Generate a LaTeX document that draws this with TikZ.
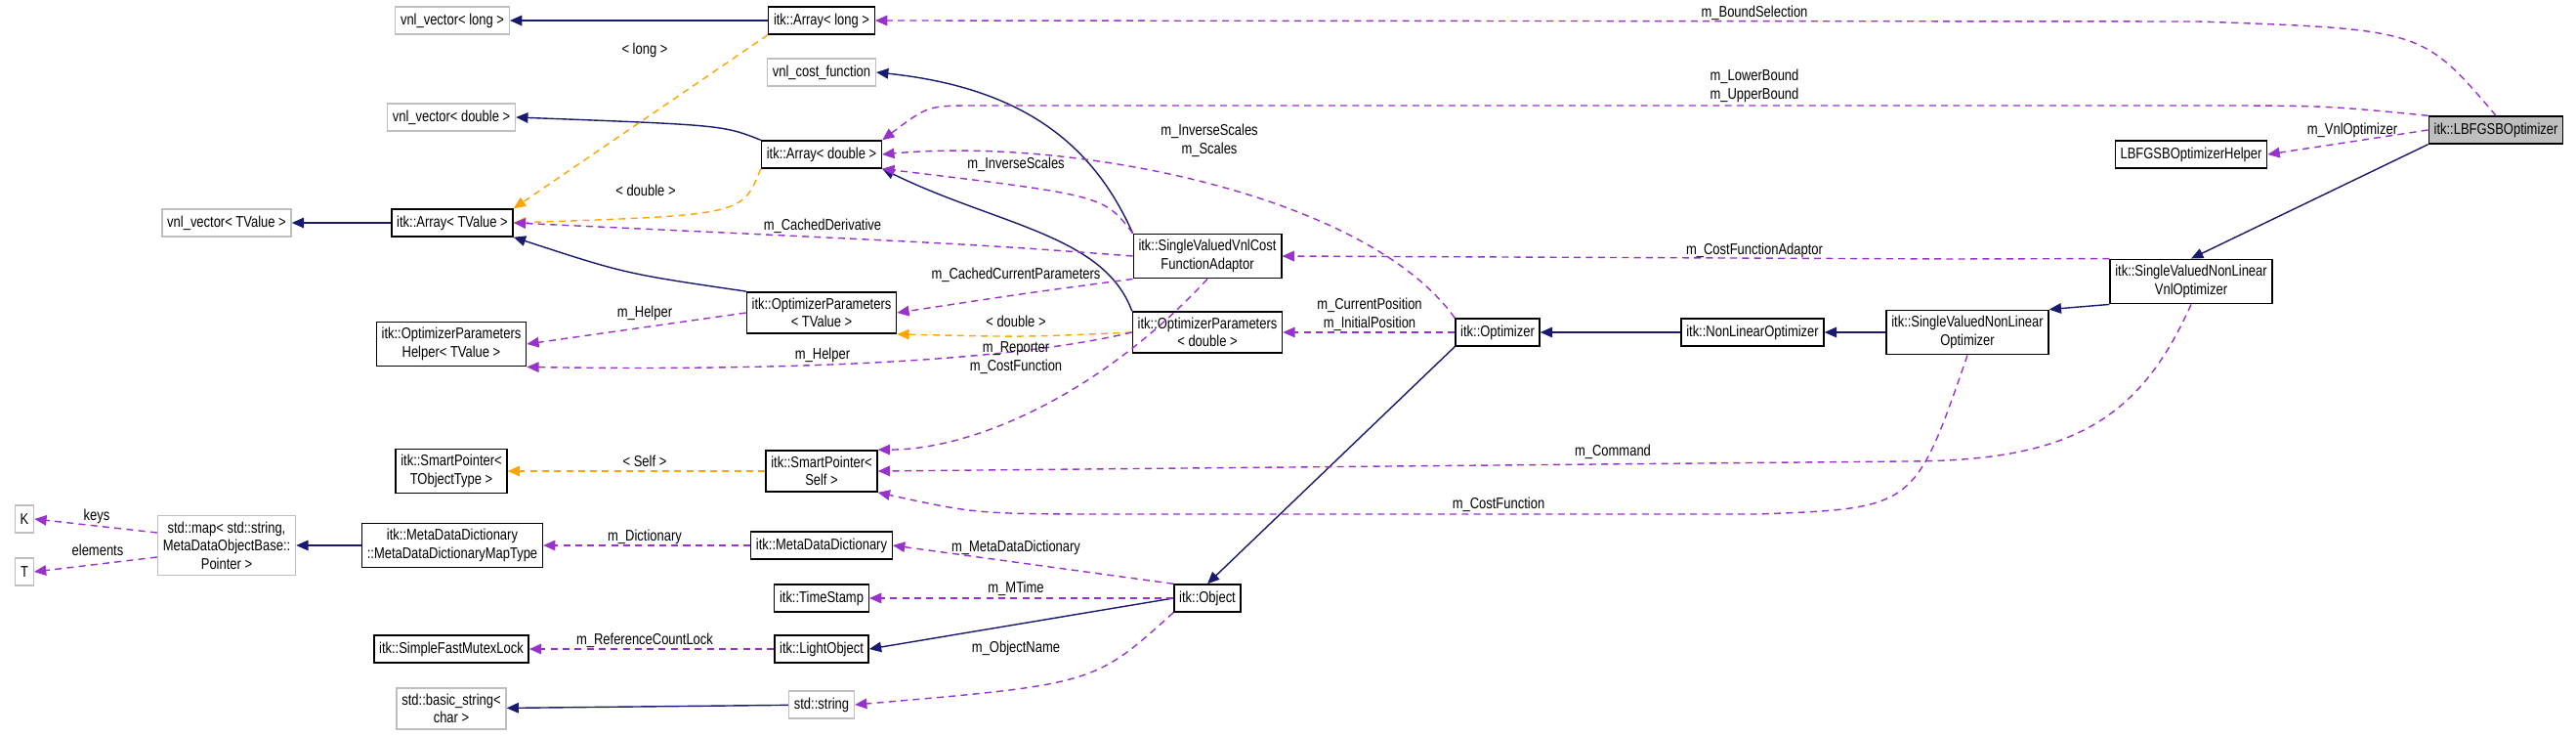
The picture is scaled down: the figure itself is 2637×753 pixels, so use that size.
\documentclass[tikz,border=0pt]{standalone}
\usepackage{fontspec}
\setmainfont{Liberation Sans}[FakeStretch=0.82]
\usetikzlibrary{arrows.meta}

\definecolor{inhblue}{RGB}{25,25,112}
\definecolor{usepurple}{RGB}{153,50,204}
\definecolor{tmplorange}{RGB}{255,165,0}

\tikzset{
    box/.style={draw, fill=white, align=center, font=\fontsize{9}{10.5}\selectfont,
        inner xsep=3pt, inner ysep=3.5pt, minimum height=0.56cm},
    cls/.style={box, draw=black, line width=0.8pt},
    ext/.style={box, draw=black!25, line width=0.8pt},
    cur/.style={box, draw=black, fill=black!25, line width=0.8pt},
    lbl/.style={font=\fontsize{9}{10.5}\selectfont, align=center, inner sep=1pt},
    inh/.style={draw=inhblue, line width=0.8pt, -{Triangle[length=7pt,width=6pt]}},
    use/.style={draw=usepurple, line width=0.8pt, dash pattern=on 4pt off 3pt,
        -{Triangle[length=7pt,width=6pt]}},
    tmpl/.style={draw=tmplorange, line width=0.8pt, dash pattern=on 4pt off 3pt,
        -{Triangle[length=7pt,width=6pt]}},
}

\begin{document}
\begin{tikzpicture}[x=0.02cm, y=-0.02cm]
    \useasboundingbox (0, 0) rectangle (2637, 753);

    % classes
    \node [ext] (vnlLong) at (463, 21) {vnl\_vector< long >};
    \node [cls] (arrLong) at (841, 21) {itk::Array< long >};
    \node [ext] (costFn) at (841, 74) {vnl\_cost\_function};
    \node [ext] (vnlDouble) at (462, 120) {vnl\_vector< double >};
    \node [cls] (arrDouble) at (841, 158) {itk::Array< double >};
    \node [ext] (vnlTValue) at (232, 228) {vnl\_vector< TValue >};
    \node [cls] (arrTValue) at (463, 228) {itk::Array< TValue >};
    \node [cls] (helperT) at (462, 352) {itk::OptimizerParameters\\Helper< TValue >};
    \node [cls] (paramsT) at (841, 320) {itk::OptimizerParameters\\< TValue >};
    \node [cls] (adaptor) at (1236, 262) {itk::SingleValuedVnlCost\\FunctionAdaptor};
    \node [cls] (paramsD) at (1236, 340) {itk::OptimizerParameters\\< double >};
    \node [cls] (optimizer) at (1533, 340) {itk::Optimizer};
    \node [cls] (nonLinear) at (1794, 340) {itk::NonLinearOptimizer};
    \node [cls] (svnl) at (2014, 340) {itk::SingleValuedNonLinear\\Optimizer};
    \node [cls] (svnlVnl) at (2243, 288) {itk::SingleValuedNonLinear\\VnlOptimizer};
    \node [cur] (lbfgsb) at (2555, 133) {itk::LBFGSBOptimizer};
    \node [cls] (lbfgsbHelper) at (2243, 158) {LBFGSBOptimizerHelper};

    \node [cls] (smartT) at (462, 482) {itk::SmartPointer<\\TObjectType >};
    \node [cls] (smartSelf) at (841, 482) {itk::SmartPointer<\\Self >};
    \node [ext] (keyK) at (25, 531) {K};
    \node [ext] (elemT) at (25, 585) {T};
    \node [ext] (stdMap) at (232, 558) {std::map< std::string,\\MetaDataObjectBase::\\Pointer >};
    \node [cls] (mapType) at (463, 558) {itk::MetaDataDictionary\\::MetaDataDictionaryMapType};
    \node [cls] (metaDict) at (841, 558) {itk::MetaDataDictionary};
    \node [cls] (timeStamp) at (841, 612) {itk::TimeStamp};
    \node [cls] (object) at (1236, 612) {itk::Object};
    \node [cls] (mutexLock) at (462, 664) {itk::SimpleFastMutexLock};
    \node [cls] (lightObj) at (841, 664) {itk::LightObject};
    \node [ext] (basicStr) at (462, 725) {std::basic\_string<\\char >};
    \node [ext] (stdStr) at (841, 721) {std::string};

    % inheritance
    \draw [inh] (arrLong) -- (vnlLong);
    \draw [inh] (arrDouble.north west) .. controls (740, 128) .. (vnlDouble.east);
    \draw [inh] (arrTValue) -- (vnlTValue);
    \draw [inh] (paramsT.north west) .. controls (640, 280) .. (arrTValue.south east);
    \draw [inh] (paramsD.north west) .. controls (1130, 240) and (1020, 230) .. (arrDouble.south east);
    \draw [inh] (adaptor.north west) .. controls (1120, 150) and (1050, 90) .. (costFn.east);
    \draw [inh] (lbfgsb.south west) -- (svnlVnl.north);
    \draw [inh] (svnlVnl.south west) -- (svnl.north east);
    \draw [inh] (svnl) -- (nonLinear);
    \draw [inh] (nonLinear) -- (optimizer);
    \draw [inh] (optimizer.south west) -- (object.north);
    \draw [inh] (object.west) -- (lightObj.east);
    \draw [inh] (stdStr) -- (basicStr);
    \draw [inh] (mapType) -- (stdMap);

    % template instances
    \draw [tmpl] (arrLong.south west) -- (arrTValue.north east);
    \draw [tmpl] (arrDouble.south west) .. controls (760, 220) .. (arrTValue.east);
    \draw [tmpl] (paramsD.west) .. controls (1050, 345) .. (paramsT.south east);
    \draw [tmpl] (smartSelf) -- (smartT);
    \node [lbl] (lLong) at (660, 51) {< long >};
    \node [lbl] (lDouble) at (661, 195) {< double >};
    \node [lbl] (lDoubleP) at (1040, 329) {< double >};
    \node [lbl] (lSelf) at (660, 472) {< Self >};

    % members
    \draw [use] (lbfgsb.north) .. controls (2480, 30) .. (2250, 22) -- (arrLong.east);
    \draw [use] (lbfgsb.north west) .. controls (2380, 108) .. (2250, 108)
        -- (1000, 108) .. controls (950, 108) .. (arrDouble.north east);
    \draw [use] (lbfgsb.west) -- (lbfgsbHelper.east);
    \draw [use] (svnlVnl.north west) .. controls (2080, 265) .. (2000, 265) -- (adaptor.east);
    \draw [use] (svnlVnl.south) .. controls (2190, 430) and (2120, 472) .. (1950, 472)
        -- (smartSelf.east);
    \draw [use] (svnl.south) .. controls (1960, 520) .. (1800, 526) -- (1150, 526)
        .. controls (1000, 526) .. (smartSelf.south east);
    \draw [use] (optimizer.north west) .. controls (1400, 200) and (1100, 140) .. (arrDouble.east);
    \draw [use] (optimizer.west) -- (paramsD.east);
    \draw [use] (adaptor.north west) .. controls (1130, 200) .. (arrDouble.south east);
    \draw [use] (adaptor.west) .. controls (1000, 250) .. (arrTValue.east);
    \draw [use] (adaptor.south west) .. controls (1050, 300) .. (paramsT.east);
    \draw [use] (adaptor.south) .. controls (1130, 400) and (1000, 460) .. (smartSelf.north east);
    \draw [use] (paramsT.west) -- (helperT.east);
    \draw [use] (paramsD.west) .. controls (1000, 378) and (700, 378) .. (helperT.south east);
    \draw [use] (metaDict) -- (mapType);
    \draw [use] (object.north west) -- (metaDict.east);
    \draw [use] (object) -- (timeStamp);
    \draw [use] (lightObj) -- (mutexLock);
    \draw [use] (object.south west) .. controls (1120, 700) .. (stdStr.east);
    \draw [use] (stdMap.west) ++(0, -13) -- (keyK.east);
    \draw [use] (stdMap.west) ++(0, 12) -- (elemT.east);

    \node [lbl] (lBound) at (1796, 13) {m\_BoundSelection};
    \node [lbl] (lLower) at (1796, 88) {m\_LowerBound\\m\_UpperBound};
    \node [lbl] (lVnlOpt) at (2408, 133) {m\_VnlOptimizer};
    \node [lbl] (lAdaptor) at (1796, 256) {m\_CostFunctionAdaptor};
    \node [lbl] (lCommand) at (1651, 462) {m\_Command};
    \node [lbl] (lCostFn) at (1534, 516) {m\_CostFunction};
    \node [lbl] (lScales) at (1238, 144) {m\_InverseScales\\m\_Scales};
    \node [lbl] (lPosition) at (1402, 322) {m\_CurrentPosition\\m\_InitialPosition};
    \node [lbl] (lInvScales) at (1040, 168) {m\_InverseScales};
    \node [lbl] (lDerivative) at (842, 231) {m\_CachedDerivative};
    \node [lbl] (lCurParams) at (1040, 281) {m\_CachedCurrentParameters};
    \node [lbl] (lReporter) at (1040, 366) {m\_Reporter\\m\_CostFunction};
    \node [lbl] (lHelper) at (660, 320) {m\_Helper};
    \node [lbl] (lHelperD) at (842, 363) {m\_Helper};
    \node [lbl] (lDict) at (660, 549) {m\_Dictionary};
    \node [lbl] (lMetaDict) at (1040, 560) {m\_MetaDataDictionary};
    \node [lbl] (lMTime) at (1040, 602) {m\_MTime};
    \node [lbl] (lLock) at (660, 655) {m\_ReferenceCountLock};
    \node [lbl] (lName) at (1040, 663) {m\_ObjectName};
    \node [lbl] (lKeys) at (99, 528) {keys};
    \node [lbl] (lElems) at (100, 563) {elements};
\end{tikzpicture}
\end{document}
